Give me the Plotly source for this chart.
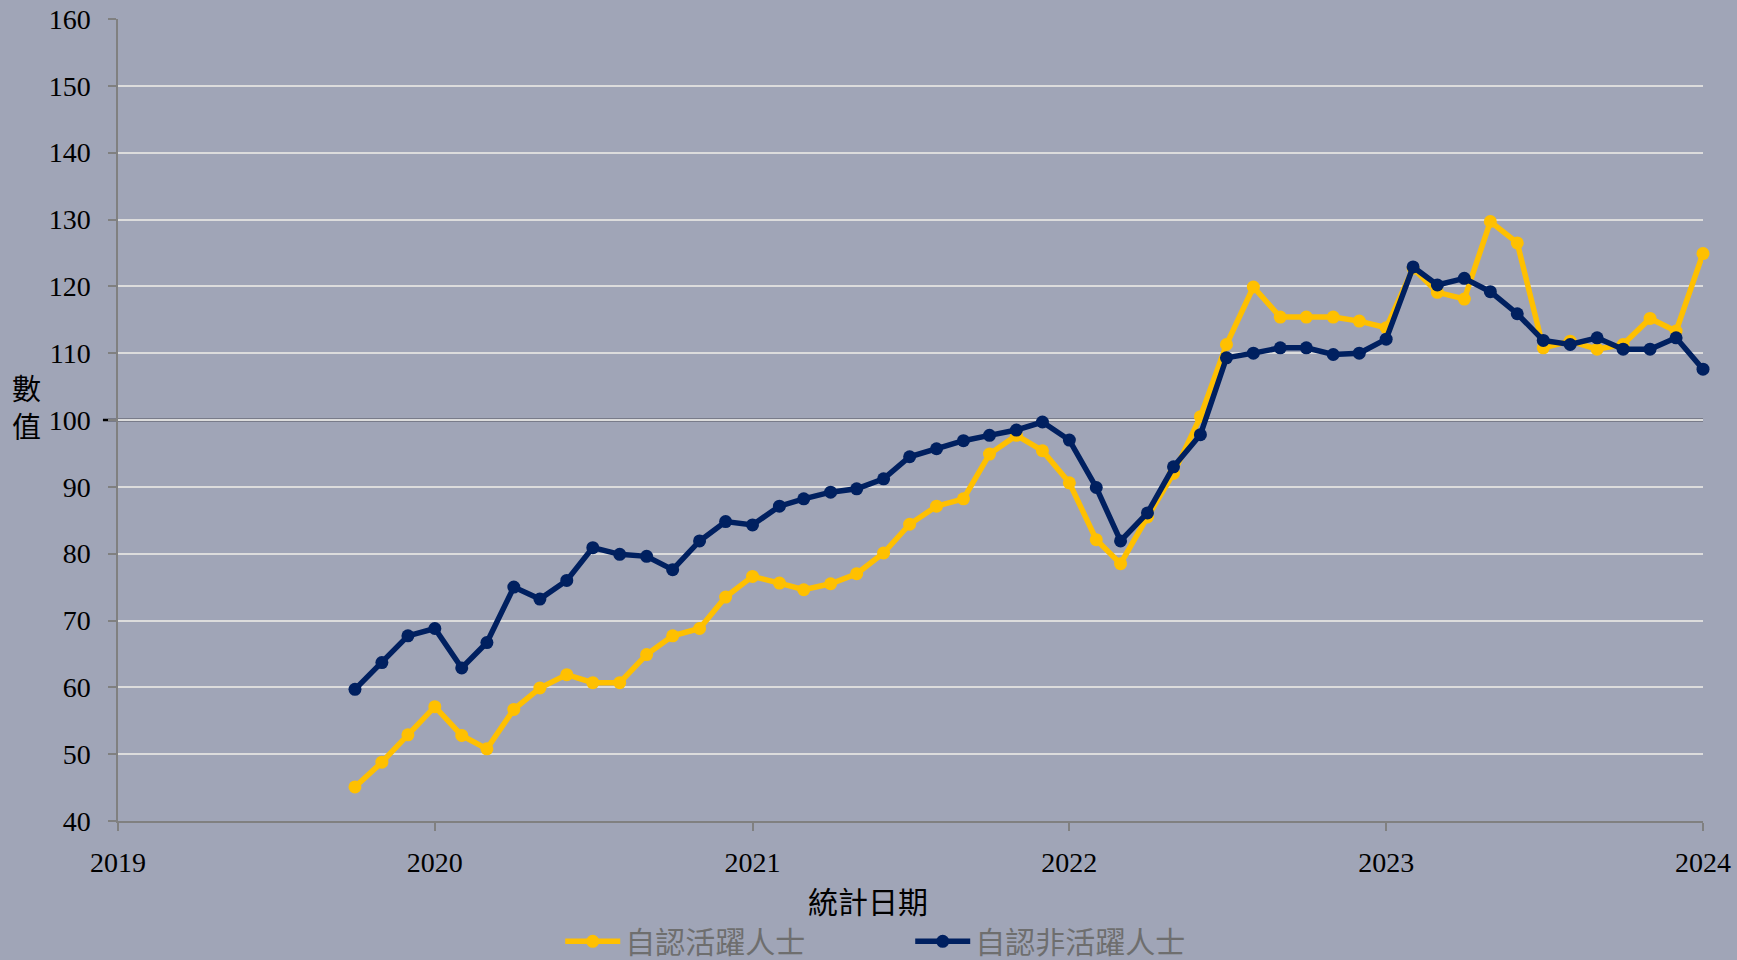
import pandas as pd
import plotly.graph_objects as go

## data
months = pd.date_range("2019-10-01", "2024-01-01", freq="MS")

active = [45.1, 48.8, 52.9, 57.1, 52.8, 50.8, 56.7, 59.9, 61.9, 60.7, 60.7, 64.9,
          67.7, 68.8, 73.5, 76.6, 75.6, 74.6, 75.5, 77.0, 80.1, 84.4, 87.1, 88.2,
          94.9, 97.7, 95.4, 90.6, 82.1, 78.5, 85.5, 92.0, 100.5, 111.3, 119.9, 115.4,
          115.4, 115.4, 114.8, 113.8, 122.7, 119.1, 118.1, 129.7, 126.5, 110.8, 111.8, 110.6,
          111.3, 115.2, 113.3, 124.9]

inactive = [59.7, 63.7, 67.7, 68.8, 62.9, 66.7, 75.0, 73.2, 76.0, 80.9, 79.9, 79.6,
            77.6, 81.9, 84.8, 84.3, 87.1, 88.2, 89.2, 89.7, 91.2, 94.5, 95.7, 96.9,
            97.7, 98.5, 99.7, 97.0, 89.9, 81.9, 86.1, 93.0, 97.8, 109.3, 110.0, 110.8,
            110.8, 109.8, 110.0, 112.1, 122.9, 120.2, 121.2, 119.2, 115.9, 111.9, 111.3, 112.3,
            110.6, 110.6, 112.3, 107.6]

names = ["自認活躍人士", "自認非活躍人士"]
colors = ["#FFC000", "#002060"]
year_ticks = ["2019", "2020", "2021", "2022", "2023", "2024"]

BG = "#A0A5B7"
FONT = "'Liberation Serif', 'Times New Roman', 'Noto Sans CJK TC', serif"

fig = go.Figure()
for name, vals, col in zip(names, [active, inactive], colors):
    fig.add_trace(go.Scatter(x=months, y=vals, name=name, mode="lines+markers",
                             line=dict(color=col, width=5.5),
                             marker=dict(color=col, size=13),
                             cliponaxis=False))

# reference line at 100
fig.add_shape(type="line", xref="paper", yref="paper", x0=-0.0095, x1=1,
              y0=(100 - 40) / 120, y1=(100 - 40) / 120,
              line=dict(color="black", width=2.5), layer="between")

fig.update_xaxes(type="date", range=[year_ticks[0] + "-01-01", year_ticks[-1] + "-01-01"],
                 tickvals=[y + "-01-01" for y in year_ticks], ticktext=year_ticks,
                 showgrid=False, showline=True, linecolor="#808080", linewidth=1.5,
                 ticks="outside", ticklen=8, tickcolor="#808080", tickwidth=1.5,
                 ticklabelstandoff=8, tickfont=dict(size=28, color="black", family=FONT),
                 zeroline=False)
fig.update_yaxes(range=[40, 160], dtick=10, showgrid=True, gridcolor="#DCDCDC", gridwidth=1.5,
                 showline=True, linecolor="#808080", linewidth=1.5,
                 ticks="outside", ticklen=8, tickcolor="#808080", tickwidth=1.5,
                 ticklabelstandoff=12, tickfont=dict(size=28, color="black", family=FONT),
                 zeroline=False)

fig.add_annotation(text="統計日期", xref="paper", yref="paper", x=0.473, y=-0.102,
                   showarrow=False, xanchor="center", yanchor="middle",
                   font=dict(size=30, color="black", family=FONT))
fig.add_annotation(text="數<br>值", xref="paper", yref="paper", x=-0.058, y=0.514,
                   showarrow=False, xanchor="center", yanchor="middle",
                   font=dict(size=29, color="black", family=FONT))

fig.update_layout(
    width=1737, height=960,
    paper_bgcolor=BG, plot_bgcolor=BG,
    margin=dict(l=118, r=34, t=19, b=139, autoexpand=False),
    font=dict(family=FONT),
    showlegend=True,
    legend=dict(orientation="h", x=0.279, xanchor="left", y=-0.150, yanchor="middle",
                font=dict(size=30, color="#6E6E6E", family=FONT),
                bgcolor="rgba(0,0,0,0)", itemwidth=55,
                entrywidth=280, entrywidthmode="pixels"),
)

fig.write_html("out.html", config={"displayModeBar": False},
               post_script="document.body.style.margin='0';")
